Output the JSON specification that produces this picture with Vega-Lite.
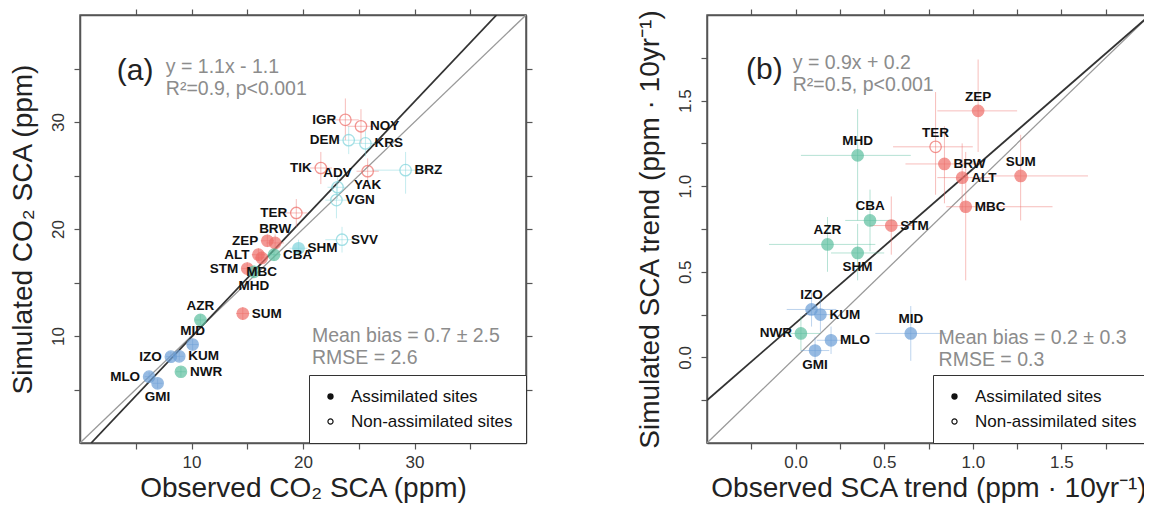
{
 "$schema": "https://vega.github.io/schema/vega-lite/v6.json",
 "padding": {"left": 8, "top": 7, "right": -14, "bottom": 0},
 "spacing": 101,
 "resolve": {"scale": {"fill": "independent", "stroke": "independent", "color": "independent", "fillOpacity": "independent", "shape": "independent"}, "legend": {"shape": "independent"}},
 "config": {
  "font": "Liberation Sans",
  "view": {"stroke": "#555", "strokeWidth": 1.5},
  "axis": {"grid": false, "domainColor": "#555", "domainWidth": 1.5, "tickColor": "#555", "tickWidth": 1.2, "tickSize": 6, "labelFont": "Liberation Sans", "labelFontSize": 17, "labelColor": "#333", "titleFont": "Liberation Sans", "titleFontSize": 28, "titleFontWeight": "normal", "titleColor": "#222"},
  "legend": {"orient": "bottom-right", "offset": 0, "padding": 13, "strokeColor": "#333", "fillColor": "#ffffff", "labelFontSize": 17, "labelFont": "Liberation Sans", "labelColor": "#111", "labelLimit": 300, "symbolSize": 40, "symbolOpacity": 1, "symbolStrokeWidth": 0.4, "labelOffset": 12, "rowPadding": 7}
 },
 "datasets": {
  "lines": [
   {"panel": "a", "kind": "one", "x": 0, "y": 0}, {"panel": "a", "kind": "one", "x": 40, "y": 40},
   {"panel": "a", "kind": "reg", "x": 1, "y": 0}, {"panel": "a", "kind": "reg", "x": 37.36, "y": 40},
   {"panel": "b", "kind": "one", "x": -0.5, "y": -0.5}, {"panel": "b", "kind": "one", "x": 2, "y": 2},
   {"panel": "b", "kind": "reg", "x": -0.5, "y": -0.25}, {"panel": "b", "kind": "reg", "x": 2, "y": 2}
  ],
  "pts": [
   {"panel": "a", "site": "IGR", "obs": 23.8, "sim": 30.2, "oLo": 22.6, "oHi": 25.0, "sLo": 28.3, "sHi": 32.2, "grp": "high", "assim": "Non-assimilated sites", "pos": "left"},
   {"panel": "a", "site": "NOY", "obs": 25.2, "sim": 29.6, "oLo": 24.0, "oHi": 26.4, "sLo": 28.0, "sHi": 31.2, "grp": "high", "assim": "Non-assimilated sites", "pos": "right"},
   {"panel": "a", "site": "DEM", "obs": 24.1, "sim": 28.3, "oLo": 23.0, "oHi": 25.2, "sLo": 27.0, "sHi": 29.6, "grp": "sib", "assim": "Non-assimilated sites", "pos": "left"},
   {"panel": "a", "site": "KRS", "obs": 25.6, "sim": 28.0, "oLo": 24.6, "oHi": 26.6, "sLo": 26.8, "sHi": 29.2, "grp": "sib", "assim": "Non-assimilated sites", "pos": "right"},
   {"panel": "a", "site": "BRZ", "obs": 29.2, "sim": 25.5, "oLo": 26.2, "oHi": 32.0, "sLo": 23.3, "sHi": 27.2, "grp": "sib", "assim": "Non-assimilated sites", "pos": "right"},
   {"panel": "a", "site": "TIK", "obs": 21.6, "sim": 25.7, "oLo": 20.6, "oHi": 22.6, "sLo": 24.2, "sHi": 27.2, "grp": "high", "assim": "Non-assimilated sites", "pos": "left"},
   {"panel": "a", "site": "ADV", "obs": 23.1, "sim": 23.9, "oLo": 22.2, "oHi": 24.0, "sLo": 22.8, "sHi": 25.0, "grp": "sib", "assim": "Non-assimilated sites", "pos": "above"},
   {"panel": "a", "site": "YAK", "obs": 25.8, "sim": 25.4, "oLo": 24.8, "oHi": 26.8, "sLo": 24.2, "sHi": 26.6, "grp": "high", "assim": "Non-assimilated sites", "pos": "below"},
   {"panel": "a", "site": "VGN", "obs": 23.0, "sim": 22.7, "oLo": 22.0, "oHi": 24.2, "sLo": 21.0, "sHi": 24.4, "grp": "sib", "assim": "Non-assimilated sites", "pos": "right"},
   {"panel": "a", "site": "TER", "obs": 19.4, "sim": 21.5, "oLo": 18.4, "oHi": 20.4, "sLo": 20.2, "sHi": 22.8, "grp": "high", "assim": "Non-assimilated sites", "pos": "left"},
   {"panel": "a", "site": "SVV", "obs": 23.5, "sim": 19.0, "oLo": 22.0, "oHi": 25.0, "sLo": 17.8, "sHi": 20.2, "grp": "sib", "assim": "Non-assimilated sites", "pos": "right"},
   {"panel": "a", "site": "BRW", "obs": 17.5, "sim": 18.7, "oLo": 16.7, "oHi": 18.3, "sLo": 17.9, "sHi": 19.5, "grp": "high", "assim": "Assimilated sites", "pos": "above"},
   {"panel": "a", "site": "ZEP", "obs": 16.8, "sim": 18.9, "oLo": 16.2, "oHi": 17.4, "sLo": 18.3, "sHi": 19.5, "grp": "high", "assim": "Assimilated sites", "pos": "left"},
   {"panel": "a", "site": "ALT", "obs": 16.0, "sim": 17.6, "oLo": 15.4, "oHi": 16.6, "sLo": 17.0, "sHi": 18.2, "grp": "high", "assim": "Assimilated sites", "pos": "left"},
   {"panel": "a", "site": "SHM", "obs": 19.6, "sim": 18.2, "oLo": 18.8, "oHi": 20.4, "sLo": 17.4, "sHi": 19.0, "grp": "sib", "assim": "Assimilated sites", "pos": "right"},
   {"panel": "a", "site": "CBA", "obs": 17.4, "sim": 17.6, "oLo": 16.8, "oHi": 18.0, "sLo": 17.0, "sHi": 18.2, "grp": "mid", "assim": "Assimilated sites", "pos": "right"},
   {"panel": "a", "site": "STM", "obs": 15.0, "sim": 16.3, "oLo": 14.5, "oHi": 15.5, "sLo": 15.7, "sHi": 16.9, "grp": "high", "assim": "Assimilated sites", "pos": "left"},
   {"panel": "a", "site": "MBC", "obs": 16.3, "sim": 17.3, "oLo": 15.7, "oHi": 16.9, "sLo": 16.7, "sHi": 17.9, "grp": "high", "assim": "Assimilated sites", "pos": "below"},
   {"panel": "a", "site": "MHD", "obs": 15.6, "sim": 16.0, "oLo": 15.1, "oHi": 16.1, "sLo": 15.4, "sHi": 16.6, "grp": "mid", "assim": "Assimilated sites", "pos": "below"},
   {"panel": "a", "site": "SUM", "obs": 14.6, "sim": 12.1, "oLo": 14.0, "oHi": 15.2, "sLo": 11.5, "sHi": 12.7, "grp": "high", "assim": "Assimilated sites", "pos": "right"},
   {"panel": "a", "site": "AZR", "obs": 10.8, "sim": 11.5, "oLo": 10.3, "oHi": 11.3, "sLo": 11.0, "sHi": 12.0, "grp": "mid", "assim": "Assimilated sites", "pos": "above"},
   {"panel": "a", "site": "MID", "obs": 10.1, "sim": 9.2, "oLo": 9.6, "oHi": 10.6, "sLo": 8.7, "sHi": 9.7, "grp": "low", "assim": "Assimilated sites", "pos": "above"},
   {"panel": "a", "site": "IZO", "obs": 8.15, "sim": 8.07, "oLo": 7.7, "oHi": 8.6, "sLo": 7.6, "sHi": 8.5, "grp": "low", "assim": "Assimilated sites", "pos": "left"},
   {"panel": "a", "site": "KUM", "obs": 8.9, "sim": 8.1, "oLo": 8.5, "oHi": 9.3, "sLo": 7.7, "sHi": 8.5, "grp": "low", "assim": "Assimilated sites", "pos": "right"},
   {"panel": "a", "site": "NWR", "obs": 9.05, "sim": 6.66, "oLo": 8.6, "oHi": 9.5, "sLo": 6.2, "sHi": 7.1, "grp": "mid", "assim": "Assimilated sites", "pos": "right"},
   {"panel": "a", "site": "MLO", "obs": 6.2, "sim": 6.2, "oLo": 5.8, "oHi": 6.6, "sLo": 5.8, "sHi": 6.6, "grp": "low", "assim": "Assimilated sites", "pos": "left"},
   {"panel": "a", "site": "GMI", "obs": 6.96, "sim": 5.58, "oLo": 6.5, "oHi": 7.4, "sLo": 5.1, "sHi": 6.0, "grp": "low", "assim": "Assimilated sites", "pos": "below"},
   {"panel": "b", "site": "ZEP", "obs": 1.03, "sim": 1.44, "oLo": 0.80, "oHi": 1.25, "sLo": 1.20, "sHi": 1.74, "grp": "high", "assim": "Assimilated sites", "pos": "above"},
   {"panel": "b", "site": "TER", "obs": 0.79, "sim": 1.23, "oLo": 0.55, "oHi": 1.00, "sLo": 0.95, "sHi": 1.55, "grp": "high", "assim": "Non-assimilated sites", "pos": "above"},
   {"panel": "b", "site": "MHD", "obs": 0.35, "sim": 1.18, "oLo": 0.03, "oHi": 0.65, "sLo": 0.80, "sHi": 1.45, "grp": "mid", "assim": "Assimilated sites", "pos": "above"},
   {"panel": "b", "site": "BRW", "obs": 0.84, "sim": 1.13, "oLo": 0.62, "oHi": 1.05, "sLo": 0.90, "sHi": 1.35, "grp": "high", "assim": "Assimilated sites", "pos": "right"},
   {"panel": "b", "site": "ALT", "obs": 0.94, "sim": 1.05, "oLo": 0.80, "oHi": 1.10, "sLo": 0.85, "sHi": 1.25, "grp": "high", "assim": "Assimilated sites", "pos": "right"},
   {"panel": "b", "site": "SUM", "obs": 1.27, "sim": 1.06, "oLo": 1.10, "oHi": 1.65, "sLo": 0.80, "sHi": 1.30, "grp": "high", "assim": "Assimilated sites", "pos": "above"},
   {"panel": "b", "site": "MBC", "obs": 0.96, "sim": 0.88, "oLo": 0.85, "oHi": 1.45, "sLo": 0.45, "sHi": 1.20, "grp": "high", "assim": "Assimilated sites", "pos": "right"},
   {"panel": "b", "site": "CBA", "obs": 0.42, "sim": 0.80, "oLo": 0.28, "oHi": 0.56, "sLo": 0.62, "sHi": 0.98, "grp": "mid", "assim": "Assimilated sites", "pos": "above"},
   {"panel": "b", "site": "STM", "obs": 0.54, "sim": 0.77, "oLo": 0.42, "oHi": 0.66, "sLo": 0.60, "sHi": 0.94, "grp": "high", "assim": "Assimilated sites", "pos": "right"},
   {"panel": "b", "site": "AZR", "obs": 0.18, "sim": 0.66, "oLo": -0.15, "oHi": 0.45, "sLo": 0.50, "sHi": 0.82, "grp": "mid", "assim": "Assimilated sites", "pos": "above"},
   {"panel": "b", "site": "SHM", "obs": 0.35, "sim": 0.61, "oLo": 0.20, "oHi": 0.50, "sLo": 0.45, "sHi": 0.78, "grp": "mid", "assim": "Assimilated sites", "pos": "below"},
   {"panel": "b", "site": "IZO", "obs": 0.09, "sim": 0.28, "oLo": -0.05, "oHi": 0.23, "sLo": 0.18, "sHi": 0.38, "grp": "low", "assim": "Assimilated sites", "pos": "above"},
   {"panel": "b", "site": "KUM", "obs": 0.14, "sim": 0.25, "oLo": 0.05, "oHi": 0.23, "sLo": 0.15, "sHi": 0.35, "grp": "low", "assim": "Assimilated sites", "pos": "right"},
   {"panel": "b", "site": "NWR", "obs": 0.03, "sim": 0.14, "oLo": -0.08, "oHi": 0.14, "sLo": 0.04, "sHi": 0.24, "grp": "mid", "assim": "Assimilated sites", "pos": "left"},
   {"panel": "b", "site": "MLO", "obs": 0.20, "sim": 0.10, "oLo": 0.12, "oHi": 0.28, "sLo": 0.02, "sHi": 0.18, "grp": "low", "assim": "Assimilated sites", "pos": "right"},
   {"panel": "b", "site": "GMI", "obs": 0.11, "sim": 0.04, "oLo": 0.03, "oHi": 0.19, "sLo": -0.04, "sHi": 0.12, "grp": "low", "assim": "Assimilated sites", "pos": "below"},
   {"panel": "b", "site": "MID", "obs": 0.65, "sim": 0.14, "oLo": 0.45, "oHi": 0.85, "sLo": -0.02, "sHi": 0.30, "grp": "low", "assim": "Assimilated sites", "pos": "above"}
  ]
 },
 "hconcat": [
  {
   "width": 446, "height": 428,
   "resolve": {"axis": {"x": "independent", "y": "independent"}},
   "layer": [
    {"data": {"name": "lines"}, "transform": [{"filter": "datum.panel=='a' && datum.kind=='one'"}], "mark": {"type": "line", "color": "#9a9a9a", "strokeWidth": 1.3, "clip": true},
     "encoding": {"x": {"field": "x", "type": "quantitative", "scale": {"domain": [0, 40], "nice": false, "zero": false}, "axis": null}, "y": {"field": "y", "type": "quantitative", "scale": {"domain": [0, 40], "nice": false, "zero": false}, "axis": null}}},
    {"data": {"name": "lines"}, "transform": [{"filter": "datum.panel=='a' && datum.kind=='reg'"}], "mark": {"type": "line", "color": "#333333", "strokeWidth": 1.8, "clip": true},
     "encoding": {"x": {"field": "x", "type": "quantitative", "scale": {"domain": [0, 40], "nice": false, "zero": false}, "axis": null}, "y": {"field": "y", "type": "quantitative", "scale": {"domain": [0, 40], "nice": false, "zero": false}, "axis": null}}},
    {"data": {"name": "pts"}, "transform": [{"filter": "datum.panel=='a'"}], "mark": {"type": "rule", "strokeWidth": 1, "opacity": 0.45},
     "encoding": {"x": {"field": "oLo", "type": "quantitative", "scale": {"domain": [0, 40], "nice": false, "zero": false}, "axis": null}, "x2": {"field": "oHi"}, "y": {"field": "sim", "type": "quantitative", "scale": {"domain": [0, 40], "nice": false, "zero": false}, "axis": null},
      "color": {"field": "grp", "type": "nominal", "scale": {"domain": ["high", "mid", "sib", "low"], "range": ["#ee6d68", "#5cbf9f", "#7fd4dc", "#6b9ed6"]}, "legend": null}}},
    {"data": {"name": "pts"}, "transform": [{"filter": "datum.panel=='a'"}], "mark": {"type": "rule", "strokeWidth": 1, "opacity": 0.45},
     "encoding": {"x": {"field": "obs", "type": "quantitative", "scale": {"domain": [0, 40], "nice": false, "zero": false}, "axis": null}, "y": {"field": "sLo", "type": "quantitative", "scale": {"domain": [0, 40], "nice": false, "zero": false}, "axis": null}, "y2": {"field": "sHi"},
      "color": {"field": "grp", "type": "nominal", "scale": {"domain": ["high", "mid", "sib", "low"], "range": ["#ee6d68", "#5cbf9f", "#7fd4dc", "#6b9ed6"]}, "legend": null}}},
    {"data": {"name": "pts"}, "transform": [{"filter": "datum.panel=='a'"}], "mark": {"type": "point", "filled": true, "size": 130, "strokeWidth": 1.3},
     "encoding": {
      "x": {"field": "obs", "type": "quantitative", "scale": {"domain": [0, 40], "nice": false, "zero": false}, "title": "Observed CO₂ SCA (ppm)",
            "axis": {"orient": "bottom", "values": [5, 10, 15, 20, 25, 30, 35], "labelExpr": "datum.value % 10 == 0 ? datum.label : ''", "labelPadding": 5, "titlePadding": 4}},
      "y": {"field": "sim", "type": "quantitative", "scale": {"domain": [0, 40], "nice": false, "zero": false}, "title": "Simulated CO₂ SCA (ppm)",
            "axis": {"orient": "left", "values": [5, 10, 15, 20, 25, 30, 35], "labelExpr": "datum.value % 10 == 0 ? datum.label : ''", "labelAngle": -90, "labelAlign": "center", "labelBaseline": "bottom", "labelPadding": 7, "titlePadding": 12}},
      "fill": {"field": "grp", "type": "nominal", "scale": {"domain": ["high", "mid", "sib", "low"], "range": ["#ee6d68", "#5cbf9f", "#7fd4dc", "#6b9ed6"]}, "legend": null},
      "stroke": {"field": "grp", "type": "nominal", "scale": {"domain": ["high", "mid", "sib", "low"], "range": ["#ee6d68", "#5cbf9f", "#7fd4dc", "#6b9ed6"]}, "legend": null},
      "fillOpacity": {"field": "assim", "type": "nominal", "scale": {"type": "ordinal", "domain": ["Assimilated sites", "Non-assimilated sites"], "range": [1, 0]}, "legend": null}
     }},
    {"data": {"name": "pts"}, "transform": [{"filter": "datum.panel=='a'"}], "mark": {"type": "point", "filled": true, "color": "#111111", "opacity": 0},
     "encoding": {
      "x": {"field": "obs", "type": "quantitative", "scale": {"domain": [0, 40], "nice": false, "zero": false}, "axis": null},
      "y": {"field": "sim", "type": "quantitative", "scale": {"domain": [0, 40], "nice": false, "zero": false}, "axis": null},
      "shape": {"field": "assim", "type": "nominal", "scale": {"domain": ["Assimilated sites", "Non-assimilated sites"], "range": ["circle", "M-1,0A1,1,0,1,1,1,0A1,1,0,1,1,-1,0ZM-0.62,0A0.62,0.62,0,1,0,0.62,0A0.62,0.62,0,1,0,-0.62,0Z"]},
            "legend": {"title": null, "symbolOpacity": 1}}
     }},
    {"data": {"name": "pts"}, "transform": [{"filter": "datum.panel=='a' && datum.pos=='above'"}], "mark": {"type": "text", "fontSize": 13.5, "fontWeight": "bold", "color": "#111", "align": "center", "baseline": "middle", "dy": -14},
     "encoding": {"x": {"field": "obs", "type": "quantitative", "scale": {"domain": [0, 40], "nice": false, "zero": false}, "axis": null}, "y": {"field": "sim", "type": "quantitative", "scale": {"domain": [0, 40], "nice": false, "zero": false}, "axis": null}, "text": {"field": "site"}}},
    {"data": {"name": "pts"}, "transform": [{"filter": "datum.panel=='a' && datum.pos=='below'"}], "mark": {"type": "text", "fontSize": 13.5, "fontWeight": "bold", "color": "#111", "align": "center", "baseline": "middle", "dy": 14},
     "encoding": {"x": {"field": "obs", "type": "quantitative", "scale": {"domain": [0, 40], "nice": false, "zero": false}, "axis": null}, "y": {"field": "sim", "type": "quantitative", "scale": {"domain": [0, 40], "nice": false, "zero": false}, "axis": null}, "text": {"field": "site"}}},
    {"data": {"name": "pts"}, "transform": [{"filter": "datum.panel=='a' && datum.pos=='left'"}], "mark": {"type": "text", "fontSize": 13.5, "fontWeight": "bold", "color": "#111", "align": "right", "baseline": "middle", "dx": -9},
     "encoding": {"x": {"field": "obs", "type": "quantitative", "scale": {"domain": [0, 40], "nice": false, "zero": false}, "axis": null}, "y": {"field": "sim", "type": "quantitative", "scale": {"domain": [0, 40], "nice": false, "zero": false}, "axis": null}, "text": {"field": "site"}}},
    {"data": {"name": "pts"}, "transform": [{"filter": "datum.panel=='a' && datum.pos=='right'"}], "mark": {"type": "text", "fontSize": 13.5, "fontWeight": "bold", "color": "#111", "align": "left", "baseline": "middle", "dx": 9},
     "encoding": {"x": {"field": "obs", "type": "quantitative", "scale": {"domain": [0, 40], "nice": false, "zero": false}, "axis": null}, "y": {"field": "sim", "type": "quantitative", "scale": {"domain": [0, 40], "nice": false, "zero": false}, "axis": null}, "text": {"field": "site"}}},
    {"data": {"values": [{}]}, "mark": {"type": "text", "fontSize": 30, "color": "#222", "align": "left", "baseline": "middle"},
     "encoding": {"x": {"datum": 3.3, "type": "quantitative", "scale": {"domain": [0, 40], "nice": false, "zero": false}, "axis": null}, "y": {"datum": 34.8, "type": "quantitative", "scale": {"domain": [0, 40], "nice": false, "zero": false}, "axis": null}, "text": {"value": "(a)"}}},
    {"data": {"values": [{}]}, "mark": {"type": "text", "fontSize": 19.5, "color": "#8c8c8c", "align": "left", "baseline": "top", "lineHeight": 22},
     "encoding": {"x": {"datum": 7.7, "type": "quantitative", "scale": {"domain": [0, 40], "nice": false, "zero": false}, "axis": null}, "y": {"datum": 36.0, "type": "quantitative", "scale": {"domain": [0, 40], "nice": false, "zero": false}, "axis": null}, "text": {"value": ["y = 1.1x - 1.1", "R²=0.9, p<0.001"]}}},
    {"data": {"values": [{}]}, "mark": {"type": "text", "fontSize": 19.5, "color": "#8c8c8c", "align": "left", "baseline": "top", "lineHeight": 22},
     "encoding": {"x": {"datum": 20.8, "type": "quantitative", "scale": {"domain": [0, 40], "nice": false, "zero": false}, "axis": null}, "y": {"datum": 10.85, "type": "quantitative", "scale": {"domain": [0, 40], "nice": false, "zero": false}, "axis": null}, "text": {"value": ["Mean bias = 0.7 ± 2.5", "RMSE = 2.6"]}}},
    {"data": {"name": "lines"}, "transform": [{"filter": "datum.panel=='a'"}], "mark": {"type": "point", "opacity": 0},
     "encoding": {
      "x": {"field": "x", "type": "quantitative", "scale": {"domain": [0, 40], "nice": false, "zero": false}, "axis": {"orient": "top", "values": [5, 10, 15, 20, 25, 30, 35], "labels": false, "title": null}},
      "y": {"field": "y", "type": "quantitative", "scale": {"domain": [0, 40], "nice": false, "zero": false}, "axis": {"orient": "right", "values": [5, 10, 15, 20, 25, 30, 35], "labels": false, "title": null}}
     }}
   ]
  },
  {
   "width": 443, "height": 428,
   "resolve": {"axis": {"x": "independent", "y": "independent"}},
   "layer": [
    {"data": {"name": "lines"}, "transform": [{"filter": "datum.panel=='b' && datum.kind=='one'"}], "mark": {"type": "line", "color": "#9a9a9a", "strokeWidth": 1.3, "clip": true},
     "encoding": {"x": {"field": "x", "type": "quantitative", "scale": {"domain": [-0.5, 2], "nice": false, "zero": false}, "axis": null}, "y": {"field": "y", "type": "quantitative", "scale": {"domain": [-0.5, 2], "nice": false, "zero": false}, "axis": null}}},
    {"data": {"name": "lines"}, "transform": [{"filter": "datum.panel=='b' && datum.kind=='reg'"}], "mark": {"type": "line", "color": "#333333", "strokeWidth": 1.8, "clip": true},
     "encoding": {"x": {"field": "x", "type": "quantitative", "scale": {"domain": [-0.5, 2], "nice": false, "zero": false}, "axis": null}, "y": {"field": "y", "type": "quantitative", "scale": {"domain": [-0.5, 2], "nice": false, "zero": false}, "axis": null}}},
    {"data": {"name": "pts"}, "transform": [{"filter": "datum.panel=='b'"}], "mark": {"type": "rule", "strokeWidth": 1, "opacity": 0.45},
     "encoding": {"x": {"field": "oLo", "type": "quantitative", "scale": {"domain": [-0.5, 2], "nice": false, "zero": false}, "axis": null}, "x2": {"field": "oHi"}, "y": {"field": "sim", "type": "quantitative", "scale": {"domain": [-0.5, 2], "nice": false, "zero": false}, "axis": null},
      "color": {"field": "grp", "type": "nominal", "scale": {"domain": ["high", "mid", "sib", "low"], "range": ["#ee6d68", "#5cbf9f", "#7fd4dc", "#6b9ed6"]}, "legend": null}}},
    {"data": {"name": "pts"}, "transform": [{"filter": "datum.panel=='b'"}], "mark": {"type": "rule", "strokeWidth": 1, "opacity": 0.45},
     "encoding": {"x": {"field": "obs", "type": "quantitative", "scale": {"domain": [-0.5, 2], "nice": false, "zero": false}, "axis": null}, "y": {"field": "sLo", "type": "quantitative", "scale": {"domain": [-0.5, 2], "nice": false, "zero": false}, "axis": null}, "y2": {"field": "sHi"},
      "color": {"field": "grp", "type": "nominal", "scale": {"domain": ["high", "mid", "sib", "low"], "range": ["#ee6d68", "#5cbf9f", "#7fd4dc", "#6b9ed6"]}, "legend": null}}},
    {"data": {"name": "pts"}, "transform": [{"filter": "datum.panel=='b'"}], "mark": {"type": "point", "filled": true, "size": 130, "strokeWidth": 1.3},
     "encoding": {
      "x": {"field": "obs", "type": "quantitative", "scale": {"domain": [-0.5, 2], "nice": false, "zero": false}, "title": "Observed SCA trend (ppm · 10yr⁻¹)",
            "axis": {"orient": "bottom", "values": [-0.25, 0, 0.25, 0.5, 0.75, 1, 1.25, 1.5, 1.75], "labelExpr": "(datum.value*4) % 2 == 0 ? format(datum.value, '.1f') : ''", "labelPadding": 5, "titlePadding": 4}},
      "y": {"field": "sim", "type": "quantitative", "scale": {"domain": [-0.5, 2], "nice": false, "zero": false}, "title": "Simulated SCA trend (ppm · 10yr⁻¹)",
            "axis": {"orient": "left", "values": [-0.25, 0, 0.25, 0.5, 0.75, 1, 1.25, 1.5, 1.75], "labelExpr": "(datum.value*4) % 2 == 0 ? format(datum.value, '.1f') : ''", "labelAngle": -90, "labelAlign": "center", "labelBaseline": "bottom", "labelPadding": 7, "titlePadding": 12}},
      "fill": {"field": "grp", "type": "nominal", "scale": {"domain": ["high", "mid", "sib", "low"], "range": ["#ee6d68", "#5cbf9f", "#7fd4dc", "#6b9ed6"]}, "legend": null},
      "stroke": {"field": "grp", "type": "nominal", "scale": {"domain": ["high", "mid", "sib", "low"], "range": ["#ee6d68", "#5cbf9f", "#7fd4dc", "#6b9ed6"]}, "legend": null},
      "fillOpacity": {"field": "assim", "type": "nominal", "scale": {"type": "ordinal", "domain": ["Assimilated sites", "Non-assimilated sites"], "range": [1, 0]}, "legend": null}
     }},
    {"data": {"name": "pts"}, "transform": [{"filter": "datum.panel=='b'"}], "mark": {"type": "point", "filled": true, "color": "#111111", "opacity": 0},
     "encoding": {
      "x": {"field": "obs", "type": "quantitative", "scale": {"domain": [-0.5, 2], "nice": false, "zero": false}, "axis": null},
      "y": {"field": "sim", "type": "quantitative", "scale": {"domain": [-0.5, 2], "nice": false, "zero": false}, "axis": null},
      "shape": {"field": "assim", "type": "nominal", "scale": {"domain": ["Assimilated sites", "Non-assimilated sites"], "range": ["circle", "M-1,0A1,1,0,1,1,1,0A1,1,0,1,1,-1,0ZM-0.62,0A0.62,0.62,0,1,0,0.62,0A0.62,0.62,0,1,0,-0.62,0Z"]},
            "legend": {"title": null, "symbolOpacity": 1}}
     }},
    {"data": {"name": "pts"}, "transform": [{"filter": "datum.panel=='b' && datum.pos=='above'"}], "mark": {"type": "text", "fontSize": 13.5, "fontWeight": "bold", "color": "#111", "align": "center", "baseline": "middle", "dy": -14},
     "encoding": {"x": {"field": "obs", "type": "quantitative", "scale": {"domain": [-0.5, 2], "nice": false, "zero": false}, "axis": null}, "y": {"field": "sim", "type": "quantitative", "scale": {"domain": [-0.5, 2], "nice": false, "zero": false}, "axis": null}, "text": {"field": "site"}}},
    {"data": {"name": "pts"}, "transform": [{"filter": "datum.panel=='b' && datum.pos=='below'"}], "mark": {"type": "text", "fontSize": 13.5, "fontWeight": "bold", "color": "#111", "align": "center", "baseline": "middle", "dy": 14},
     "encoding": {"x": {"field": "obs", "type": "quantitative", "scale": {"domain": [-0.5, 2], "nice": false, "zero": false}, "axis": null}, "y": {"field": "sim", "type": "quantitative", "scale": {"domain": [-0.5, 2], "nice": false, "zero": false}, "axis": null}, "text": {"field": "site"}}},
    {"data": {"name": "pts"}, "transform": [{"filter": "datum.panel=='b' && datum.pos=='left'"}], "mark": {"type": "text", "fontSize": 13.5, "fontWeight": "bold", "color": "#111", "align": "right", "baseline": "middle", "dx": -9},
     "encoding": {"x": {"field": "obs", "type": "quantitative", "scale": {"domain": [-0.5, 2], "nice": false, "zero": false}, "axis": null}, "y": {"field": "sim", "type": "quantitative", "scale": {"domain": [-0.5, 2], "nice": false, "zero": false}, "axis": null}, "text": {"field": "site"}}},
    {"data": {"name": "pts"}, "transform": [{"filter": "datum.panel=='b' && datum.pos=='right'"}], "mark": {"type": "text", "fontSize": 13.5, "fontWeight": "bold", "color": "#111", "align": "left", "baseline": "middle", "dx": 9},
     "encoding": {"x": {"field": "obs", "type": "quantitative", "scale": {"domain": [-0.5, 2], "nice": false, "zero": false}, "axis": null}, "y": {"field": "sim", "type": "quantitative", "scale": {"domain": [-0.5, 2], "nice": false, "zero": false}, "axis": null}, "text": {"field": "site"}}},
    {"data": {"values": [{}]}, "mark": {"type": "text", "fontSize": 30, "color": "#222", "align": "left", "baseline": "middle"},
     "encoding": {"x": {"datum": -0.28, "type": "quantitative", "scale": {"domain": [-0.5, 2], "nice": false, "zero": false}, "axis": null}, "y": {"datum": 1.68, "type": "quantitative", "scale": {"domain": [-0.5, 2], "nice": false, "zero": false}, "axis": null}, "text": {"value": "(b)"}}},
    {"data": {"values": [{}]}, "mark": {"type": "text", "fontSize": 19.5, "color": "#8c8c8c", "align": "left", "baseline": "top", "lineHeight": 22},
     "encoding": {"x": {"datum": -0.016, "type": "quantitative", "scale": {"domain": [-0.5, 2], "nice": false, "zero": false}, "axis": null}, "y": {"datum": 1.77, "type": "quantitative", "scale": {"domain": [-0.5, 2], "nice": false, "zero": false}, "axis": null}, "text": {"value": ["y = 0.9x + 0.2", "R²=0.5, p<0.001"]}}},
    {"data": {"values": [{}]}, "mark": {"type": "text", "fontSize": 19.5, "color": "#8c8c8c", "align": "left", "baseline": "top", "lineHeight": 22},
     "encoding": {"x": {"datum": 0.807, "type": "quantitative", "scale": {"domain": [-0.5, 2], "nice": false, "zero": false}, "axis": null}, "y": {"datum": 0.165, "type": "quantitative", "scale": {"domain": [-0.5, 2], "nice": false, "zero": false}, "axis": null}, "text": {"value": ["Mean bias = 0.2 ± 0.3", "RMSE = 0.3"]}}},
    {"data": {"name": "lines"}, "transform": [{"filter": "datum.panel=='b'"}], "mark": {"type": "point", "opacity": 0},
     "encoding": {
      "x": {"field": "x", "type": "quantitative", "scale": {"domain": [-0.5, 2], "nice": false, "zero": false}, "axis": {"orient": "top", "values": [-0.25, 0, 0.25, 0.5, 0.75, 1, 1.25, 1.5, 1.75], "labels": false, "title": null}},
      "y": {"field": "y", "type": "quantitative", "scale": {"domain": [-0.5, 2], "nice": false, "zero": false}, "axis": {"orient": "right", "values": [-0.25, 0, 0.25, 0.5, 0.75, 1, 1.25, 1.5, 1.75], "labels": false, "title": null}}
     }}
   ]
  }
 ]
}
